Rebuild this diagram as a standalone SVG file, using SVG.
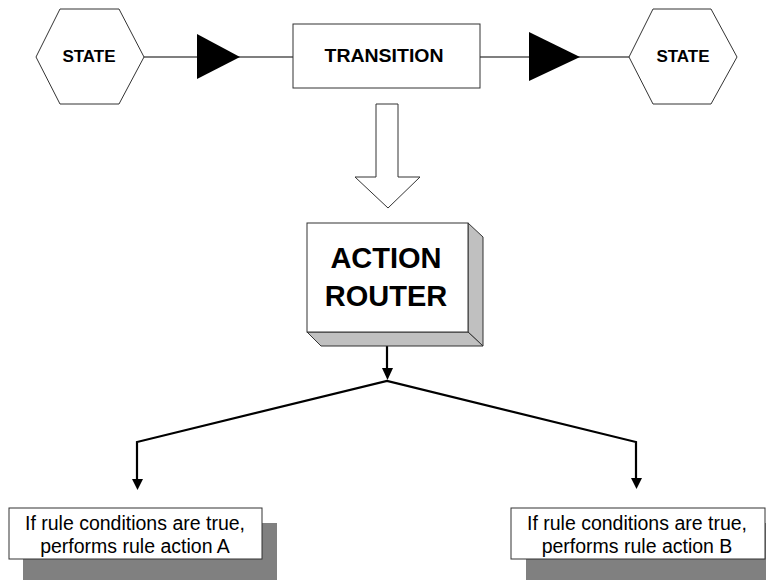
<svg xmlns="http://www.w3.org/2000/svg" width="766" height="580" viewBox="0 0 766 580">
<defs>
<style>
.shape{fill:#fff;stroke:#333;stroke-width:1}
.lbl{font-family:"Liberation Sans",Arial,sans-serif;font-weight:bold;fill:#000;text-anchor:middle}
.note{font-family:"Liberation Sans",Arial,sans-serif;font-size:19.5px;fill:#000;text-anchor:middle}
.line{fill:none;stroke:#000;stroke-width:1.2}
.thick{fill:none;stroke:#000;stroke-width:2.2}
.head{fill:#000}
.shadow{fill:#808080}
.side{fill:#c0c0c0;stroke:#333;stroke-width:1}
</style>
</defs>
<rect width="766" height="580" fill="#fff"/>
<g id="connectors">
<line class="line" x1="144" y1="57" x2="293" y2="57"/>
<polygon class="head" points="197,34 240,57 197,79"/>
<line class="line" x1="480" y1="57" x2="629" y2="57"/>
<polygon class="head" points="529,32 580,57 529,81"/>
<polygon class="shape" points="376,104 398,104 398,177 420,177 388,208 355,177 376,177"/>
<line class="thick" x1="387" y1="346" x2="387" y2="372"/>
<polygon class="head" points="382,368 393,368 387.5,380"/>
<polyline class="thick" points="137,480 137,442 387,381 636,442 636,480"/>
<polygon class="head" points="132,479 143,479 137.5,490"/>
<polygon class="head" points="631,478 642,478 636.5,489"/>
</g>
<g id="state1">
<polygon class="shape" points="36,57 60,9 119,9 144,57 119,104 60,104"/>
<text class="lbl" x="89" y="62" font-size="17">STATE</text>
</g>
<g id="transition">
<rect class="shape" x="293" y="24" width="187" height="64"/>
<text class="lbl" x="384" y="62" font-size="18" textLength="119" lengthAdjust="spacingAndGlyphs">TRANSITION</text>
</g>
<g id="state2">
<polygon class="shape" points="629,57 653,9 711,9 737,57 711,104 653,104"/>
<text class="lbl" x="683" y="62" font-size="17">STATE</text>
</g>
<g id="router">
<polygon class="side" points="468,223 483,237 483,346 468,332"/>
<polygon class="side" points="307,332 468,332 483,346 321,346"/>
<rect class="shape" x="307" y="223" width="161" height="109"/>
<text class="lbl" x="386" y="268" font-size="29">ACTION</text>
<text class="lbl" x="386" y="306" font-size="29">ROUTER</text>
</g>
<g id="actionA">
<rect class="shadow" x="23" y="523" width="254" height="57"/>
<rect class="shape" x="9" y="508" width="253" height="51"/>
<text class="note" x="135" y="530">If rule conditions are true,</text>
<text class="note" x="135" y="553">performs rule action A</text>
</g>
<g id="actionB">
<rect class="shadow" x="526" y="523" width="240" height="57"/>
<rect class="shape" x="511" y="508" width="254" height="51"/>
<text class="note" x="637" y="530">If rule conditions are true,</text>
<text class="note" x="637" y="553">performs rule action B</text>
</g>
</svg>
